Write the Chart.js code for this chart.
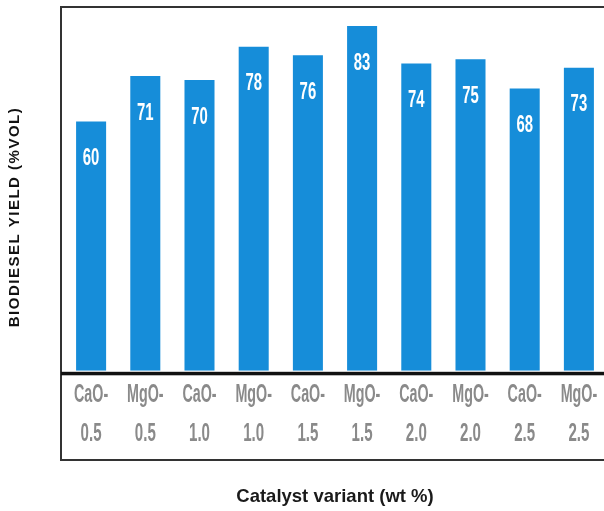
<!DOCTYPE html>
<html>
<head>
<meta charset="utf-8">
<script src="https://cdn.jsdelivr.net/npm/chart.js@4.4.1/dist/chart.umd.min.js"></script>
<style>
    html, body { margin: 0; padding: 0; background: #fff; overflow: hidden; }
    #wrap { width: 604px; height: 511px; overflow: hidden; }
</style>
</head>
<body>
<div id="wrap">
    <canvas id="myChart" width="612" height="511"></canvas>
</div>
<script>
const catalysts = ['CaO-', 'MgO-', 'CaO-', 'MgO-', 'CaO-', 'MgO-', 'CaO-', 'MgO-', 'CaO-', 'MgO-'];
const loadings = ['0.5', '0.5', '1.0', '1.0', '1.5', '1.5', '2.0', '2.0', '2.5', '2.5'];
const yields = [60, 71, 70, 78, 76, 83, 74, 75, 68, 73];
const yMax = 87.6;

// condensed text: draw with a horizontal squeeze
function drawNarrow(c, text, x, y, sx) {
    c.save();
    c.translate(x, y);
    c.scale(sx, 1);
    c.fillText(text, 0, 0);
    c.restore();
}

const framePlugin = {
    id: 'frame',
    afterDatasetsDraw(chart) {
        const c = chart.ctx;
        const area = chart.chartArea;
        const xs = chart.scales.x;
        const meta = chart.getDatasetMeta(0);

        // outer box around plot and tick labels
        c.save();
        c.strokeStyle = '#333';
        c.lineWidth = 2;
        c.strokeRect(area.left - 3, area.top, area.right - area.left + 20, 453);

        // heavy baseline under the bars
        c.fillStyle = '#111';
        c.fillRect(area.left - 3, area.bottom + 1, area.right - area.left + 20, 3.5);

        // category labels, two lines each
        c.fillStyle = '#8a8a8a';
        c.font = 'bold 26px "Liberation Sans", Arial, sans-serif';
        c.textAlign = 'center';
        c.textBaseline = 'middle';
        for (let i = 0; i < catalysts.length; i++) {
            const x = xs.getPixelForValue(i);
            drawNarrow(c, catalysts[i], x, area.bottom + 24, 0.55);
            drawNarrow(c, loadings[i], x, area.bottom + 63, 0.58);
        }

        // values inside the bars
        c.fillStyle = '#fff';
        c.font = 'bold 24px "Liberation Sans", Arial, sans-serif';
        meta.data.forEach(function (bar, i) {
            drawNarrow(c, String(yields[i]), bar.x, bar.y + 37, 0.62);
        });

        // y axis title
        c.fillStyle = '#111';
        c.font = 'bold 15px "Liberation Sans", Arial, sans-serif';
        c.letterSpacing = '1.5px';
        c.translate(15, 217);
        c.rotate(-Math.PI / 2);
        c.fillText('BIODIESEL YIELD (%VOL)', 0, 0);
        c.restore();
    }
};

var ctx = document.getElementById('myChart').getContext('2d');
var myChart = new Chart(ctx, {
    type: 'bar',
    data: {
        labels: catalysts.map(function (c, i) { return c + loadings[i]; }),
        datasets: [
            {
                label: 'Biodiesel yield',
                data: yields,
                backgroundColor: '#168dd9',
                borderWidth: 0,
                barPercentage: 0.554,
                categoryPercentage: 1.0
            }
        ]
    },
    options: {
        responsive: false,
        animation: false,
        layout: {
            padding: { left: 64, right: 6, top: 7, bottom: 0 }
        },
        plugins: {
            legend: { display: false },
            tooltip: { enabled: false }
        },
        scales: {
            x: {
                grid: { display: false, drawTicks: false },
                border: { display: false },
                ticks: { display: false },
                title: {
                    display: true,
                    text: 'Catalyst variant (wt %)',
                    color: '#1a1a1a',
                    font: { family: '"Liberation Sans", Arial, sans-serif', size: 18.5, weight: 'bold' },
                    padding: { top: 115, bottom: 3 }
                }
            },
            y: {
                display: false,
                beginAtZero: true,
                min: 0,
                max: yMax
            }
        }
    },
    plugins: [framePlugin]
});
</script>
</body>
</html>
